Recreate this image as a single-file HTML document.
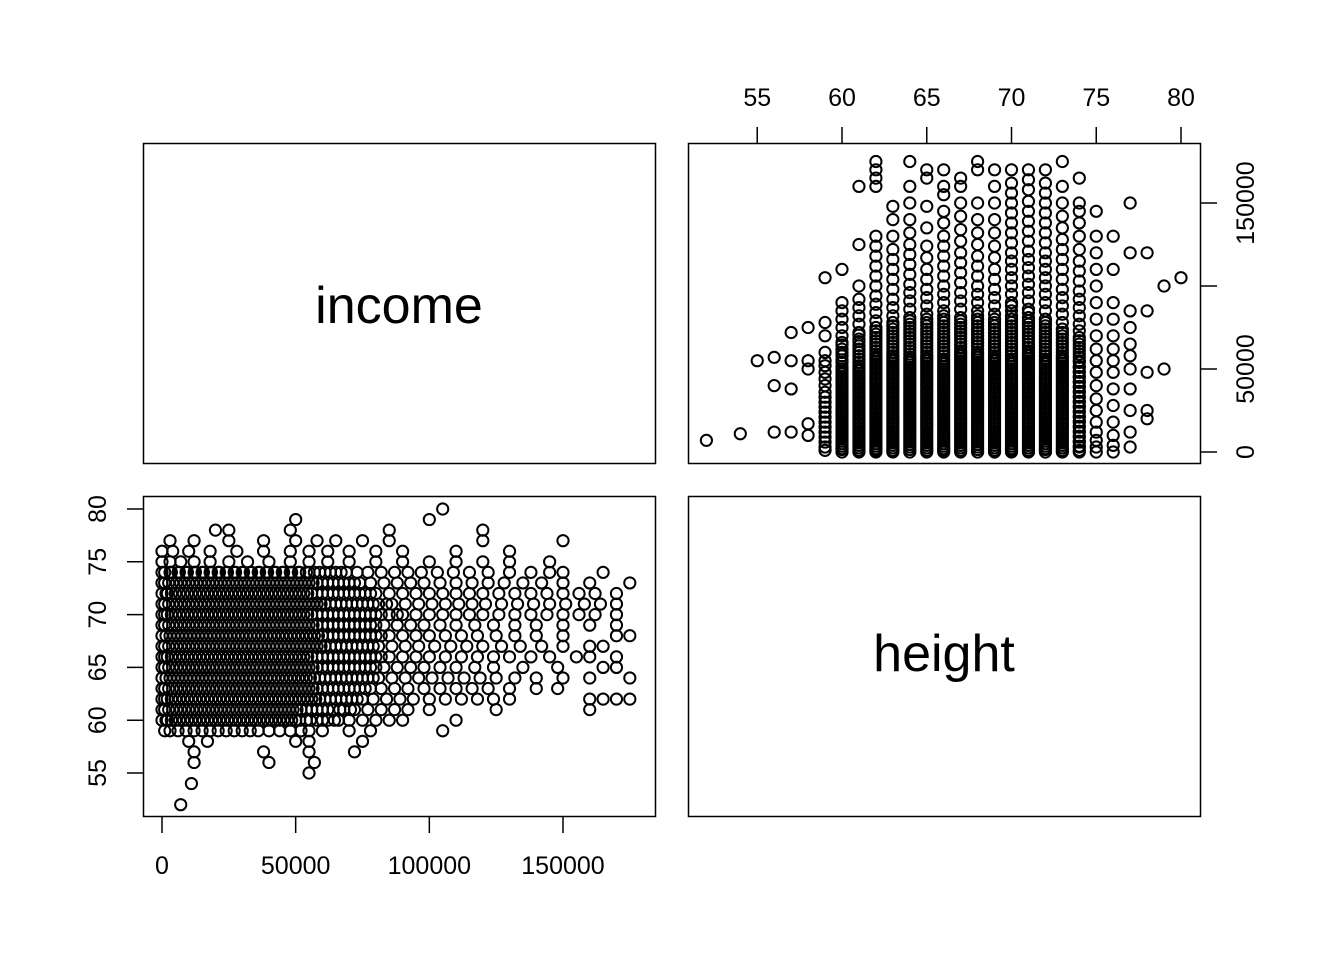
<!DOCTYPE html>
<html><head><meta charset="utf-8"><style>
html,body{margin:0;padding:0;background:#fff;}
svg{display:block;font-family:"Liberation Sans",Arial,sans-serif;}
</style></head><body>
<svg id="chart" width="1344" height="960" viewBox="0 0 1344 960">
<rect x="0" y="0" width="1344" height="960" fill="#fff"/>
<rect x="143.5" y="143.5" width="512" height="320" fill="none" stroke="#000" stroke-width="1.5"/>
<rect x="688.5" y="143.5" width="512" height="320" fill="none" stroke="#000" stroke-width="1.5"/>
<rect x="143.5" y="496.5" width="512" height="320" fill="none" stroke="#000" stroke-width="1.5"/>
<rect x="688.5" y="496.5" width="512" height="320" fill="none" stroke="#000" stroke-width="1.5"/>
<text x="399" y="323" font-size="52" text-anchor="middle">income</text>
<text x="944" y="671" font-size="52" text-anchor="middle">height</text>
<g id="axes"></g>
<g id="pts" fill="none" stroke="#000" stroke-width="2"></g>
</svg>
<script>
// data: height values (inches) and incomes (thousands of $) observed at each height
const heightValues = [52,54,55,56,57,58,59,60,61,62,63,64,65,66,67,68,69,70,71,72,73,74,75,76,77,78,79,80];
const incomeLists = [
"7","11","55","12 40 57","12 38 55 72","10 17 50 55 75",
"1 3 6 9 12 15 18 21 24 27 30 33 36 40 44 48 52 55 60 70 78 105",
"0 2 5 8 11 14 17 20 23 26 29 32 35 38 41 44 47 50 54 58 62 66 70 75 80 85 90 110",
"1 4 7 10 13 16 19 22 25 28 31 34 37 40 43 46 49 52 56 60 64 68 72 77 82 87 92 100 125 160",
"0 2 5 8 11 14 17 20 23 26 29 32 35 38 41 44 47 50 53 56 59 63 67 71 75 79 84 89 94 100 106 112 118 124 130 160 165 170 175",
"1 4 7 10 13 16 19 22 25 28 31 34 37 40 43 46 49 52 55 58 62 66 70 74 78 82 87 92 98 104 110 116 122 130 140 148",
"0 3 6 9 12 15 18 21 24 27 30 33 36 39 42 45 48 51 54 57 61 65 69 73 77 81 86 91 96 101 107 113 119 125 132 140 150 160 175",
"1 4 7 10 13 16 19 22 25 28 31 34 37 40 43 46 49 52 55 58 62 66 70 74 78 83 88 93 98 104 110 117 124 135 148 165 170",
"0 2 5 8 11 14 17 20 23 26 29 32 35 38 41 44 47 50 53 56 60 64 68 72 76 80 85 90 95 100 106 112 118 124 130 138 145 155 160 170",
"1 4 7 10 13 16 19 22 25 28 31 34 37 40 43 46 49 52 55 58 61 65 69 73 77 81 86 91 96 102 108 114 120 127 134 142 150 160 165",
"0 3 6 9 12 15 18 21 24 27 30 33 36 39 42 45 48 51 54 57 60 64 68 72 76 80 85 90 95 100 106 112 118 125 132 140 150 170 175",
"1 4 7 10 13 16 19 22 25 28 31 34 37 40 43 46 49 52 55 58 62 66 70 74 78 83 88 93 98 104 110 117 124 132 140 150 160 170",
"0 2 5 8 11 14 17 20 23 26 29 32 35 38 41 44 47 50 53 56 60 64 68 72 76 80 85 90 95 100 105 110 115 120 126 132 138 144 150 156 162 170",
"1 4 7 10 13 16 19 22 25 28 31 34 37 40 43 46 49 52 55 58 61 65 69 73 77 81 86 91 96 101 106 111 116 121 127 133 139 145 151 158 164 170",
"0 2 5 8 11 14 17 20 23 26 29 32 35 38 41 44 47 50 53 56 60 64 68 72 76 80 85 90 95 100 105 110 115 120 126 132 138 144 150 156 162 170",
"1 4 7 10 13 16 19 22 25 28 31 34 37 40 43 46 49 52 55 58 62 66 70 74 78 83 88 93 98 104 110 116 122 128 135 142 150 160 175",
"0 3 6 9 12 15 18 21 24 27 30 33 36 39 42 45 48 51 54 57 61 65 69 73 77 82 87 92 97 103 109 115 122 130 138 145 150 165",
"0 3 7 12 18 25 32 40 48 55 62 70 80 90 100 110 120 130 145",
"0 4 10 18 28 38 48 55 62 70 80 90 110 130",
"3 12 25 38 50 58 65 75 85 120 150",
"20 25 48 85 120",
"50 100",
"105"
];
// extra low-income observations for the most common heights (dense region)
const denseHeights = [60,61,62,63,64,65,66,67,68,69,70,71,72,73,74];
const denseIncomes = [
"1.5 3.5 6.5 9.5 12.5 15.5 18.5 21.5 24.5 27.5 30.5 33.5 36.5 39.5 42.5 45.5 48.5 51.5 55.5 60 64.5",
"0 2.5 5.5 8.5 11.5 14.5 17.5 20.5 23.5 26.5 29.5 32.5 35.5 38.5 41.5 44.5 47.5 50.5 54 58 62 66.5 70.5",
"1 3.5 6.5 9.5 12.5 15.5 18.5 21.5 24.5 27.5 30.5 33.5 36.5 39.5 42.5 45.5 48.5 51.5 54.5 57.5 61 65 69 73",
"0 2.5 5.5 8.5 11.5 14.5 17.5 20.5 23.5 26.5 29.5 32.5 35.5 38.5 41.5 44.5 47.5 50.5 53.5 56.5 60 64 68 72 76",
"1.5 4.5 7.5 10.5 13.5 16.5 19.5 22.5 25.5 28.5 31.5 34.5 37.5 40.5 43.5 46.5 49.5 52.5 55.5 59 63 67 71 75 79",
"0 2.5 5.5 8.5 11.5 14.5 17.5 20.5 23.5 26.5 29.5 32.5 35.5 38.5 41.5 44.5 47.5 50.5 53.5 56.5 60 64 68 72 76 80",
"1 3.5 6.5 9.5 12.5 15.5 18.5 21.5 24.5 27.5 30.5 33.5 36.5 39.5 42.5 45.5 48.5 51.5 54.5 58 62 66 70 74 78 82",
"0 2.5 5.5 8.5 11.5 14.5 17.5 20.5 23.5 26.5 29.5 32.5 35.5 38.5 41.5 44.5 47.5 50.5 53.5 56.5 59.5 63 67 71 75 79",
"1.5 4.5 7.5 10.5 13.5 16.5 19.5 22.5 25.5 28.5 31.5 34.5 37.5 40.5 43.5 46.5 49.5 52.5 55.5 58.5 62 66 70 74 78 82",
"0 2.5 5.5 8.5 11.5 14.5 17.5 20.5 23.5 26.5 29.5 32.5 35.5 38.5 41.5 44.5 47.5 50.5 53.5 56.5 60 64 68 72 76 80",
"1 3.5 6.5 9.5 12.5 15.5 18.5 21.5 24.5 27.5 30.5 33.5 36.5 39.5 42.5 45.5 48.5 51.5 54.5 58 62 66 70 74 78 82 88",
"0 2.5 5.5 8.5 11.5 14.5 17.5 20.5 23.5 26.5 29.5 32.5 35.5 38.5 41.5 44.5 47.5 50.5 53.5 56.5 59.5 63 67 71 75 79 84",
"1.5 3.5 6.5 9.5 12.5 15.5 18.5 21.5 24.5 27.5 30.5 33.5 36.5 39.5 42.5 45.5 48.5 51.5 54.5 58 62 66 70 74 78",
"0 2.5 5.5 8.5 11.5 14.5 17.5 20.5 23.5 26.5 29.5 32.5 35.5 38.5 41.5 44.5 47.5 50.5 53.5 56.5 60 64 68 72",
"1 3.5 6.5 9.5 12.5 15.5 18.5 21.5 24.5 27.5 30.5 33.5 36.5 39.5 42.5 45.5 48.5 51.5 55 59 63 67"
];
const heightTicks = [55,60,65,70,75,80];
const incomeTicks = [0,50000,100000,150000];
// right-axis labels that R draws (100000 is dropped due to overlap)
const rightAxisLabels = ["0","50000","","150000"];

const NS = "http://www.w3.org/2000/svg";
const trX = h => 842 + (h - 60) * 16.95;
const trY = v => 452 - v * 249 / 150000;
const blX = v => 162 + v * 401 / 150000;
const blY = h => 509 + (80 - h) * 10.56;

const axes = document.getElementById('axes');
function line(x1,y1,x2,y2,name){
  const l = document.createElementNS(NS,'line');
  l.setAttribute('x1',x1);l.setAttribute('y1',y1);l.setAttribute('x2',x2);l.setAttribute('y2',y2);
  l.setAttribute('stroke','#000');l.setAttribute('stroke-width','1.5');
  
  
  axes.appendChild(l);
}
function text(x,y,s,rot,name){
  if(!s) return;
  const t = document.createElementNS(NS,'text');
  t.setAttribute('x',x);t.setAttribute('y',y);t.setAttribute('font-size','25');
  t.setAttribute('text-anchor','middle');
  if(rot) t.setAttribute('transform','rotate(-90 '+x+' '+y+')');
  t.textContent = s;
  
  
  axes.appendChild(t);
}
heightTicks.forEach(h=>{ line(trX(h),127,trX(h),143.5,'top-axis-tick'); text(trX(h),106,String(h),false,'top-axis-tick-label'); });
incomeTicks.forEach((v,i)=>{ line(1200.5,trY(v),1217,trY(v),'right-axis-tick'); text(1254,trY(v),rightAxisLabels[i],true,'right-axis-tick-label'); });
heightTicks.forEach(h=>{ line(127,blY(h),143.5,blY(h),'left-axis-tick'); text(106,blY(h),String(h),true,'left-axis-tick-label'); });
incomeTicks.forEach(v=>{ line(blX(v),816.5,blX(v),833,'bottom-axis-tick'); text(blX(v),874,String(v),false,'bottom-axis-tick-label'); });

const pts = document.getElementById('pts');
function addPoint(h, k){
  const inc = k*1000;
  const c1 = document.createElementNS(NS,'circle');
  c1.setAttribute('cx',trX(h));c1.setAttribute('cy',trY(inc));c1.setAttribute('r','5.6');
  
  
  pts.appendChild(c1);
  const c2 = document.createElementNS(NS,'circle');
  c2.setAttribute('cx',blX(inc));c2.setAttribute('cy',blY(h));c2.setAttribute('r','5.6');
  
  
  pts.appendChild(c2);
}
heightValues.forEach((h,i)=>{ incomeLists[i].split(' ').map(Number).forEach(k=>addPoint(h,k)); });
denseHeights.forEach((h,i)=>{ denseIncomes[i].split(' ').map(Number).forEach(k=>addPoint(h,k)); });
</script>
</body></html>
